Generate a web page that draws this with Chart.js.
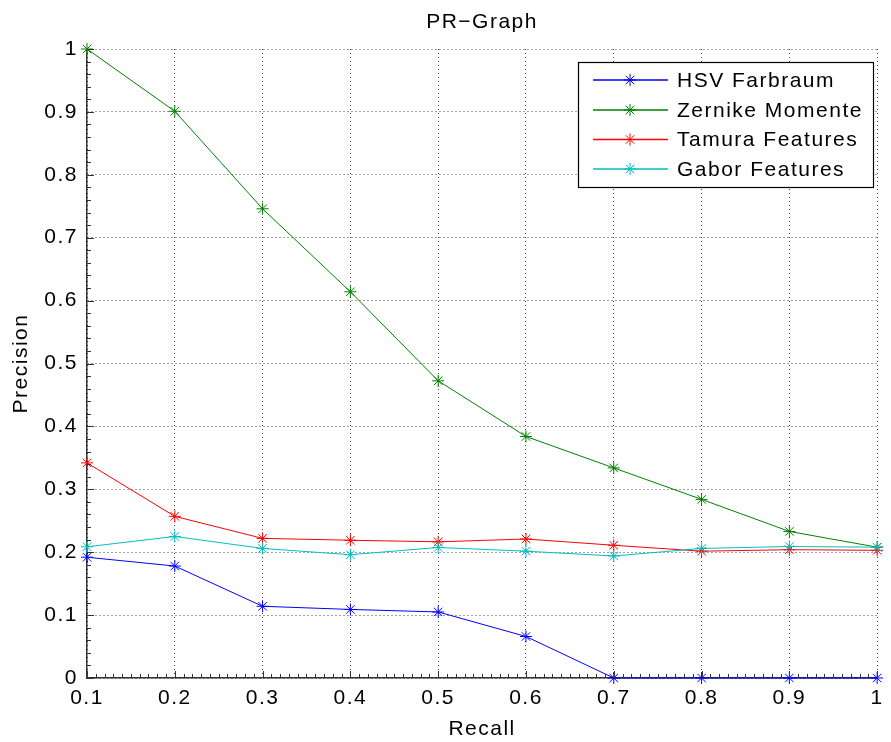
<!DOCTYPE html>
<html><head><meta charset="utf-8">
<script src="https://cdn.jsdelivr.net/npm/chart.js@4/dist/chart.umd.min.js"></script>
<style>html,body{margin:0;padding:0;background:#fff}#wrap{width:891px;height:742px;position:relative}</style>
</head><body><div id="wrap"><canvas id="c" width="891" height="742"></canvas></div>
<script>
// ---- data ----
const recall = [0.1, 0.2, 0.3, 0.4, 0.5, 0.6, 0.7, 0.8, 0.9, 1.0];
const hsvFarbraum = [0.192, 0.178, 0.114, 0.109, 0.105, 0.066, 0, 0, 0, 0];
const zernikeMomente = [1.0, 0.901, 0.746, 0.614, 0.4725, 0.384, 0.334, 0.284, 0.233, 0.208];
const tamuraFeatures = [0.342, 0.257, 0.222, 0.219, 0.2165, 0.221, 0.211, 0.2016, 0.204, 0.203];
const gaborFeatures = [0.2086, 0.225, 0.206, 0.196, 0.2075, 0.2016, 0.194, 0.206, 0.209, 0.208];
const seriesNames = ['HSV Farbraum', 'Zernike Momente', 'Tamura Features', 'Gabor Features'];
const xTickValues = [0.1, 0.2, 0.3, 0.4, 0.5, 0.6, 0.7, 0.8, 0.9, 1.0];
const xTickLabels = ['0.1', '0.2', '0.3', '0.4', '0.5', '0.6', '0.7', '0.8', '0.9', '1'];
const yTickValues = [0, 0.1, 0.2, 0.3, 0.4, 0.5, 0.6, 0.7, 0.8, 0.9, 1.0];
const yTickLabels = ['0', '0.1', '0.2', '0.3', '0.4', '0.5', '0.6', '0.7', '0.8', '0.9', '1'];
const titleText = 'PR\u2212Graph';
const xTitle = 'Recall';
const yTitle = 'Precision';

// ---- styles ----
const FONT = '"Liberation Sans", Arial, Helvetica, sans-serif';
const FSIZE = 21;
const LSPACE = '1.5px';
const colors = ['#0000ff', '#008000', '#ff0000', '#00bfbf'];
const seriesData = [hsvFarbraum, zernikeMomente, tamuraFeatures, gaborFeatures];
const AXIS_COLOR = '#333333';
const GRID_COLOR = 'rgba(0,0,0,0.75)';

function drawStar(ctx, x, y, r) {
  ctx.beginPath();
  ctx.moveTo(x - r, y); ctx.lineTo(x + r, y);
  ctx.moveTo(x, y - r); ctx.lineTo(x, y + r);
  const d = r * Math.SQRT1_2;
  ctx.moveTo(x - d, y - d); ctx.lineTo(x + d, y + d);
  ctx.moveTo(x - d, y + d); ctx.lineTo(x + d, y - d);
  ctx.stroke();
}

const decorPlugin = {
  id: 'decor',
  beforeDraw(chart) {
    try { chart.ctx.letterSpacing = LSPACE; } catch (e) {}
  },
  afterDraw(chart) {
    const ctx = chart.ctx;
    const a = chart.chartArea;
    const xs = chart.scales.x, ys = chart.scales.y;
    ctx.save();
    try { ctx.letterSpacing = LSPACE; } catch (e) {}
    // ticks (inward)
    ctx.strokeStyle = AXIS_COLOR;
    ctx.lineWidth = 1;
    ctx.beginPath();
    for (let i = 0; i <= 90; i++) {
      const v = 0.1 + i * 0.01;
      const px = Math.round(xs.getPixelForValue(v)) + 0.5;
      const len = (i % 10 === 0) ? 7 : 4;
      ctx.moveTo(px, a.bottom);
      ctx.lineTo(px, a.bottom - len);
    }
    for (let i = 0; i <= 50; i++) {
      const v = i * 0.02;
      const py = Math.round(ys.getPixelForValue(v)) + 0.5;
      const len = (i % 5 === 0) ? 7 : 4;
      ctx.moveTo(a.left, py);
      ctx.lineTo(a.left + len, py);
    }
    ctx.stroke();

    // titles
    ctx.fillStyle = '#000';
    ctx.font = FSIZE + 'px ' + FONT;
    ctx.textAlign = 'center';
    ctx.textBaseline = 'middle';
    const cx = (a.left + a.right) / 2;
    ctx.fillText(titleText, cx, 22);
    ctx.fillText(xTitle, cx, 729);
    ctx.save();
    ctx.translate(21, (a.top + a.bottom) / 2);
    ctx.rotate(-Math.PI / 2);
    ctx.fillText(yTitle, 0, 0);
    ctx.restore();

    // legend
    const bx = 578.5, by = 62.5, bw = 295, bh = 125;
    ctx.fillStyle = '#fff';
    ctx.fillRect(bx, by, bw, bh);
    ctx.strokeStyle = '#000';
    ctx.lineWidth = 1.2;
    ctx.strokeRect(bx, by, bw, bh);
    const rows = [80, 110, 139.5, 169];
    seriesNames.forEach((name, i) => {
      const y = rows[i];
      ctx.strokeStyle = colors[i];
      ctx.lineWidth = 1.5;
      ctx.beginPath();
      ctx.moveTo(593, y); ctx.lineTo(668, y);
      ctx.stroke();
      ctx.lineWidth = 1;
      drawStar(ctx, 630, y, 6);
      ctx.fillStyle = '#000';
      ctx.textAlign = 'left';
      ctx.textBaseline = 'middle';
      ctx.font = FSIZE + 'px ' + FONT;
      ctx.fillText(name, 677, y + 1);
    });
    ctx.restore();
  }
};

const datasets = seriesNames.map((name, i) => ({
  label: name,
  data: recall.map((r, j) => ({ x: r, y: seriesData[i][j] })),
  borderColor: colors[i],
  backgroundColor: colors[i],
  borderWidth: 1,
  pointStyle: 'star',
  pointRadius: 6,
  pointBorderWidth: 1,
  pointBorderColor: colors[i],
  pointBackgroundColor: colors[i],
  tension: 0,
  fill: false,
  clip: false,
  order: 4 - i
}));

new Chart(document.getElementById('c'), {
  type: 'line',
  data: { datasets },
  plugins: [decorPlugin],
  options: {
    responsive: false,
    animation: false,
    devicePixelRatio: 1,
    layout: { padding: { top: 49, right: 5, left: 0, bottom: 0 } },
    plugins: { legend: { display: false }, title: { display: false }, tooltip: { enabled: false } },
    scales: {
      x: {
        type: 'linear', min: 0.1, max: 1.0,
        afterBuildTicks: s => { s.ticks = xTickValues.map(v => ({ value: v })); },
        afterFit: s => { s.height = 64; },
        ticks: {
          autoSkip: false, maxRotation: 0, padding: 8,
          color: '#000', font: { family: FONT, size: FSIZE },
          callback: (v, i) => xTickLabels[i]
        },
        grid: { color: GRID_COLOR, lineWidth: 1, drawTicks: false },
        border: { display: true, color: AXIS_COLOR, width: 1.5, dash: [1, 3] }
      },
      y: {
        type: 'linear', min: 0, max: 1,
        afterBuildTicks: s => { s.ticks = yTickValues.map(v => ({ value: v })); },
        afterFit: s => { s.width = 87; },
        ticks: {
          autoSkip: false, padding: 9,
          color: '#000', font: { family: FONT, size: FSIZE },
          callback: (v, i) => yTickLabels[i]
        },
        grid: { color: GRID_COLOR, lineWidth: 1, drawTicks: false },
        border: { display: true, color: AXIS_COLOR, width: 1.5, dash: [1, 3] }
      }
    }
  }
});
</script>
</body></html>
